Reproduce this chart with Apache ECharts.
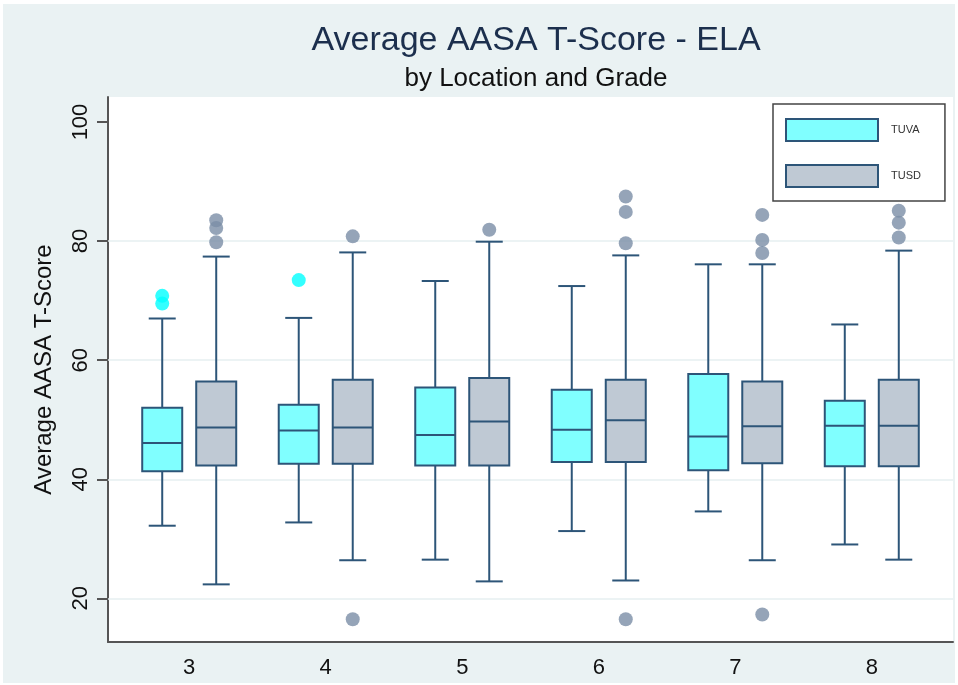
<!DOCTYPE html>
<html>
<head>
<meta charset="utf-8">
<script src="https://cdn.jsdelivr.net/npm/echarts@6/dist/echarts.min.js"></script>
<style>
    html, body { margin: 0; padding: 0; background: #fff; }
    #chart { width: 958px; height: 685px; }
</style>
</head>
<body>
<div id="chart"></div>
<script>
// grades on the x axis
let grades = [3, 4, 5, 6, 7, 8];
let yTicks = [20, 40, 60, 80, 100];
let gridValues = [20, 40, 60, 80];

// TUVA: lower whisker, Q1, median, Q3, upper whisker
let tuvaLow = [32.2, 32.75, 26.5, 31.3, 34.6, 29.05];
let tuvaQ1 = [41.35, 42.6, 42.3, 42.9, 41.5, 42.2];
let tuvaMedian = [46.1, 48.2, 47.45, 48.3, 47.2, 49.0];
let tuvaQ3 = [52.0, 52.5, 55.4, 55.05, 57.7, 53.2];
let tuvaHigh = [67.0, 67.1, 73.3, 72.45, 76.1, 66.0];
let tuvaOutliers = [[3, 70.8], [3, 69.5], [4, 73.45]];

// TUSD
let tusdLow = [22.35, 26.4, 22.85, 23.0, 26.4, 26.5];
let tusdQ1 = [42.3, 42.6, 42.3, 42.9, 42.7, 42.2];
let tusdMedian = [48.7, 48.7, 49.7, 49.9, 48.9, 49.0];
let tusdQ3 = [56.4, 56.7, 57.0, 56.7, 56.4, 56.7];
let tusdHigh = [77.4, 78.1, 79.9, 77.6, 76.1, 78.4];
let tusdOutliers = [
    [3, 83.5], [3, 82.2], [3, 79.8],
    [4, 80.8], [4, 16.5],
    [5, 81.9],
    [6, 87.5], [6, 84.9], [6, 79.65], [6, 16.5],
    [7, 84.4], [7, 80.2], [7, 78.0], [7, 17.3],
    [8, 85.1], [8, 83.1], [8, 80.6]
];

const LINE = '#2d5578';
const BOX_W = 40;
const CAP_W = 27;
const SHIFT = 27;
const FONT = 'Liberation Sans, Arial, sans-serif';

function boxRows(low, q1, med, q3, high) {
    return grades.map((g, i) => [g, low[i], q1[i], med[i], q3[i], high[i]]);
}

function boxRenderer(fill, dx) {
    return (params, api) => {
        let g = api.value(0);
        let lo = api.coord([g, api.value(1)]);
        let q1 = api.coord([g, api.value(2)]);
        let md = api.coord([g, api.value(3)]);
        let q3 = api.coord([g, api.value(4)]);
        let hi = api.coord([g, api.value(5)]);
        let cx = lo[0] + dx;
        let stroke = { stroke: LINE, lineWidth: 2 };
        return {
            type: 'group',
            children: [
                { type: 'line', shape: { x1: cx, y1: q3[1], x2: cx, y2: hi[1] }, style: stroke },
                { type: 'line', shape: { x1: cx, y1: q1[1], x2: cx, y2: lo[1] }, style: stroke },
                { type: 'line', shape: { x1: cx - CAP_W / 2, y1: hi[1], x2: cx + CAP_W / 2, y2: hi[1] }, style: stroke },
                { type: 'line', shape: { x1: cx - CAP_W / 2, y1: lo[1], x2: cx + CAP_W / 2, y2: lo[1] }, style: stroke },
                {
                    type: 'rect',
                    shape: { x: cx - BOX_W / 2, y: q3[1], width: BOX_W, height: q1[1] - q3[1] },
                    style: { fill: fill, stroke: LINE, lineWidth: 2 }
                },
                { type: 'line', shape: { x1: cx - BOX_W / 2, y1: md[1], x2: cx + BOX_W / 2, y2: md[1] }, style: stroke }
            ]
        };
    };
}

let chart = echarts.init(document.getElementById('chart'));

let option = {
    backgroundColor: '#fff',
    animation: false,
    graphic: [{
        type: 'rect',
        z: -10,
        shape: { x: 3, y: 4, width: 952, height: 679 },
        style: { fill: '#eaf2f3' }
    }],
    title: {
        text: 'Average AASA T-Score - ELA',
        subtext: 'by Location and Grade',
        left: 531,
        top: 19,
        textAlign: 'center',
        itemGap: 8,
        textStyle: { fontFamily: FONT, fontSize: 34, fontWeight: 'normal', color: '#1c2f4d' },
        subtextStyle: { fontFamily: FONT, fontSize: 26, color: '#111' }
    },
    legend: {
        left: 773,
        top: 104,
        orient: 'vertical',
        selectedMode: false,
        padding: [14, 24, 13, 12],
        itemWidth: 92,
        itemHeight: 22,
        itemGap: 22,
        backgroundColor: '#fff',
        borderColor: '#444',
        borderWidth: 1.5,
        textStyle: { fontFamily: FONT, fontSize: 11, color: '#333', padding: [0, 0, 0, 8] },
        data: [
            { name: 'TUVA', icon: 'rect', itemStyle: { color: '#80ffff', borderColor: LINE, borderWidth: 2 } },
            { name: 'TUSD', icon: 'rect', itemStyle: { color: '#bfc9d4', borderColor: LINE, borderWidth: 2 } }
        ]
    },
    grid: {
        left: 108,
        top: 97,
        width: 845,
        height: 545,
        show: true,
        backgroundColor: '#fff',
        borderWidth: 0
    },
    xAxis: {
        type: 'value',
        min: 2.405,
        max: 8.595,
        splitLine: { show: false },
        axisTick: { show: false },
        axisLine: { lineStyle: { color: '#555', width: 2 } },
        axisLabel: {
            customValues: grades,
            margin: 15,
            fontFamily: FONT,
            fontSize: 22,
            color: '#111'
        }
    },
    yAxis: {
        type: 'value',
        min: 12.67,
        max: 104.2,
        name: 'Average AASA T-Score',
        nameLocation: 'middle',
        nameRotate: 90,
        nameGap: 52,
        nameTextStyle: { fontFamily: FONT, fontSize: 24, color: '#111' },
        splitLine: { show: false },
        axisLine: { show: true, lineStyle: { color: '#555', width: 2 } },
        axisTick: { show: true, length: 11, customValues: yTicks, lineStyle: { color: '#555', width: 2 } },
        axisLabel: {
            customValues: yTicks,
            rotate: 90,
            margin: 16,
            fontFamily: FONT,
            fontSize: 22,
            color: '#111'
        }
    },
    series: [
        {
            name: 'TUVA',
            type: 'custom',
            renderItem: boxRenderer('#80ffff', -SHIFT),
            encode: { x: 0, y: [1, 2, 3, 4, 5] },
            data: boxRows(tuvaLow, tuvaQ1, tuvaMedian, tuvaQ3, tuvaHigh),
            markLine: {
                silent: true,
                z: 1,
                symbol: 'none',
                label: { show: false },
                lineStyle: { color: '#e6eff1', width: 1.5, type: 'solid' },
                data: gridValues.map(v => ({ yAxis: v }))
            }
        },
        {
            name: 'TUSD',
            type: 'custom',
            renderItem: boxRenderer('#bfc9d4', SHIFT),
            encode: { x: 0, y: [1, 2, 3, 4, 5] },
            data: boxRows(tusdLow, tusdQ1, tusdMedian, tusdQ3, tusdHigh)
        },
        {
            name: 'TUVA',
            type: 'scatter',
            symbolSize: 14,
            symbolOffset: [-SHIFT, 0],
            itemStyle: { color: '#00ffff' },
            data: tuvaOutliers
        },
        {
            name: 'TUSD',
            type: 'scatter',
            symbolSize: 14,
            symbolOffset: [SHIFT, 0],
            itemStyle: { color: '#7a8da6' },
            data: tusdOutliers
        }
    ]
};

chart.setOption(option);
</script>
</body>
</html>
